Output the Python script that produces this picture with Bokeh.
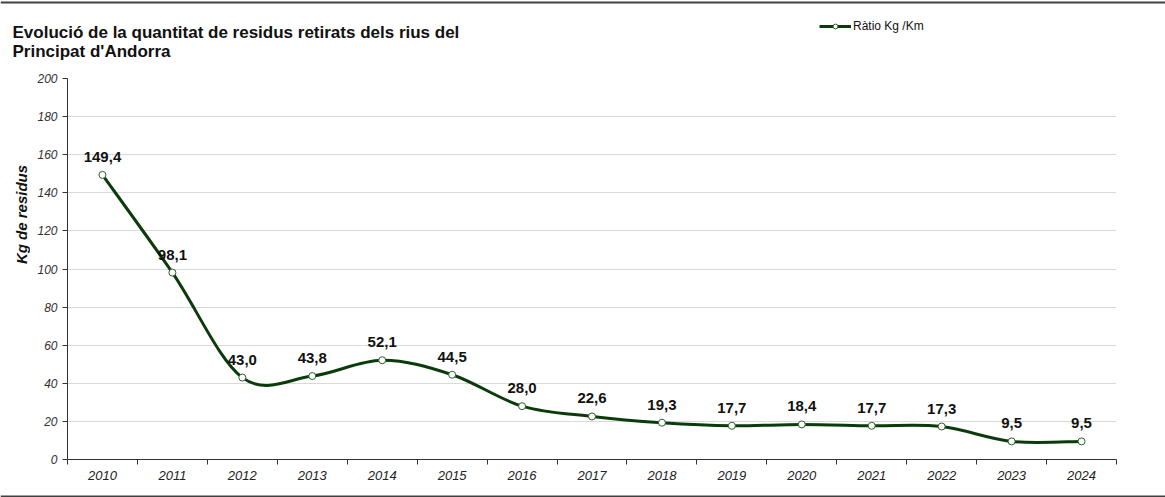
import math
from bokeh.plotting import figure
from bokeh.layouts import column, row
from bokeh.models import (ColumnDataSource, FixedTicker, Label, Legend, LegendItem,
                          LabelSet, Range1d, Span)
from bokeh.core.properties import value
from bokeh.embed import file_html
from bokeh.resources import INLINE

years = ["2010", "2011", "2012", "2013", "2014", "2015", "2016", "2017",
         "2018", "2019", "2020", "2021", "2022", "2023", "2024"]
ratio = [149.4, 98.1, 43.0, 43.8, 52.1, 44.5, 28.0, 22.6, 19.3, 17.7,
         18.4, 17.7, 17.3, 9.5, 9.5]
series_name = "Ràtio Kg /Km"
title_lines = ["Evolució de la quantitat de residus retirats dels rius del",
               "Principat d'Andorra"]
y_title = "Kg de residus"
y_max = 200

FONT = "Liberation Sans"
GREEN = "#0b3b0b"
BORDER = "#404040"

W = 1165
HEAD_H = 66
STRIP_W = 30
MAIN_H = 420
FOOT_H = 11
FL, FT, FW, FH = 67, 78, 1049, 381   # frame in page pixels

xs = list(range(1, len(years) + 1))
labels = [f"{v:.1f}".replace(".", ",") for v in ratio]


def blank(width, height, yr):
    f = figure(width=width, height=height, output_backend="svg", toolbar_location=None,
               x_range=Range1d(0, width), y_range=yr, min_border=0,
               x_axis_type=None, y_axis_type=None)
    f.outline_line_color = None
    f.xgrid.visible = False
    f.ygrid.visible = False
    return f


# ---------- header: title + legend ----------
head = blank(W, HEAD_H, Range1d(1000, 1000 + HEAD_H))
head.add_layout(Span(location=1000 + HEAD_H - 2, dimension="width",
                     line_color=BORDER, line_width=2))
for k, t in enumerate(title_lines):
    head.add_layout(Label(x=12, y=HEAD_H - (32 + k * 19), x_units="screen",
                          y_units="screen", text=t, text_font=FONT,
                          text_font_style="bold", text_font_size="17px",
                          text_color="#111111", text_baseline="alphabetic"))
# legend glyph renderers (their data lie outside the header's visible range)
leg_line = head.line(xs, ratio, line_color=GREEN, line_width=3)
leg_pts = head.scatter(xs, ratio, size=7, marker="circle", fill_color="white",
                       line_color="#2e5e2e", line_width=1)
leg = Legend(items=[LegendItem(label=value(series_name), renderers=[leg_line, leg_pts])],
             location=(819, HEAD_H - 33), orientation="horizontal",
             background_fill_alpha=0, border_line_color=None,
             label_text_font=FONT, label_text_font_size="12px",
             label_text_color="#111111", glyph_width=32, glyph_height=12,
             padding=0, margin=0, label_standoff=2, label_height=12)
head.add_layout(leg, "center")

# ---------- left strip: y-axis title ----------
strip = blank(STRIP_W, MAIN_H, Range1d(0, MAIN_H))
strip.add_layout(Label(x=21, y=MAIN_H - (241 - HEAD_H), x_units="screen",
                       y_units="screen", text=y_title, angle=math.pi / 2,
                       text_font=FONT, text_font_style="bold italic",
                       text_font_size="15px", text_color="#111111",
                       text_align="center", text_baseline="middle"))

# ---------- main chart ----------
main_w = W - STRIP_W
top = FT - HEAD_H
p = figure(width=main_w, height=MAIN_H, output_backend="svg", toolbar_location=None,
           x_range=Range1d(0.5, len(years) + 0.5), y_range=Range1d(0, y_max),
           min_border_left=FL - STRIP_W, min_border_right=main_w - (FL - STRIP_W) - FW,
           min_border_top=top, min_border_bottom=MAIN_H - top - FH)
p.outline_line_color = None

# smooth (Catmull-Rom style) segments between the data points
n = len(xs)
x0s, y0s, x1s, y1s, cx0, cy0, cx1, cy1 = [], [], [], [], [], [], [], []
for i in range(n - 1):
    pa = (xs[i - 1], ratio[i - 1]) if i > 0 else (xs[i], ratio[i])
    pb = (xs[i], ratio[i])
    pc = (xs[i + 1], ratio[i + 1])
    pd = (xs[i + 2], ratio[i + 2]) if i + 2 < n else (xs[i + 1], ratio[i + 1])
    x0s.append(pb[0]); y0s.append(pb[1]); x1s.append(pc[0]); y1s.append(pc[1])
    cx0.append(pb[0] + (pc[0] - pa[0]) / 6); cy0.append(pb[1] + (pc[1] - pa[1]) / 6)
    cx1.append(pc[0] - (pd[0] - pb[0]) / 6); cy1.append(pc[1] - (pd[1] - pb[1]) / 6)
p.bezier(x0=x0s, y0=y0s, x1=x1s, y1=y1s, cx0=cx0, cy0=cy0, cx1=cx1, cy1=cy1,
         line_color=GREEN, line_width=3)

src = ColumnDataSource(dict(x=xs, y=ratio, lab=labels))
p.scatter("x", "y", source=src, size=7, marker="circle", fill_color="white",
          line_color="#2e5e2e", line_width=1)

p.add_layout(LabelSet(x="x", y="y", text="lab", source=src, text_align="center",
                      text_baseline="alphabetic", y_offset=13, text_font=value(FONT),
                      text_font_style="bold", text_font_size="15px",
                      text_color="#111111"))

p.xaxis.ticker = FixedTicker(ticks=xs, minor_ticks=[i + 0.5 for i in range(0, n + 1)])
p.xaxis.major_label_overrides = {x: y for x, y in zip(xs, years)}
p.xaxis.major_tick_line_color = None
p.xaxis.minor_tick_in = 0
p.xaxis.minor_tick_out = 5
p.xaxis.minor_tick_line_color = "#333333"
p.xaxis.axis_line_color = "#333333"
p.xaxis.major_label_text_font = FONT
p.xaxis.major_label_text_font_style = "italic"
p.xaxis.major_label_text_font_size = "13px"
p.xaxis.major_label_text_color = "#222222"
p.xaxis.major_label_standoff = 5

p.yaxis.ticker = FixedTicker(ticks=list(range(0, y_max + 1, 20)))
p.yaxis.minor_tick_line_color = None
p.yaxis.major_tick_in = 0
p.yaxis.major_tick_out = 5
p.yaxis.major_tick_line_color = "#333333"
p.yaxis.axis_line_color = "#333333"
p.yaxis.major_label_text_font = FONT
p.yaxis.major_label_text_font_style = "italic"
p.yaxis.major_label_text_font_size = "12px"
p.yaxis.major_label_text_color = "#333333"
p.yaxis.major_label_standoff = 5

p.xgrid.grid_line_color = None
p.ygrid.grid_line_color = "#d9d9d9"
p.ygrid.grid_line_width = 1

# ---------- footer: bottom border ----------
foot = blank(W, FOOT_H, Range1d(0, FOOT_H))
foot.add_layout(Span(location=FOOT_H - 9, dimension="width", line_color=BORDER,
                     line_width=2))

layout = column(head, row(strip, p, spacing=0), foot, spacing=0)
open("out.html", "w").write(file_html(layout, INLINE))
